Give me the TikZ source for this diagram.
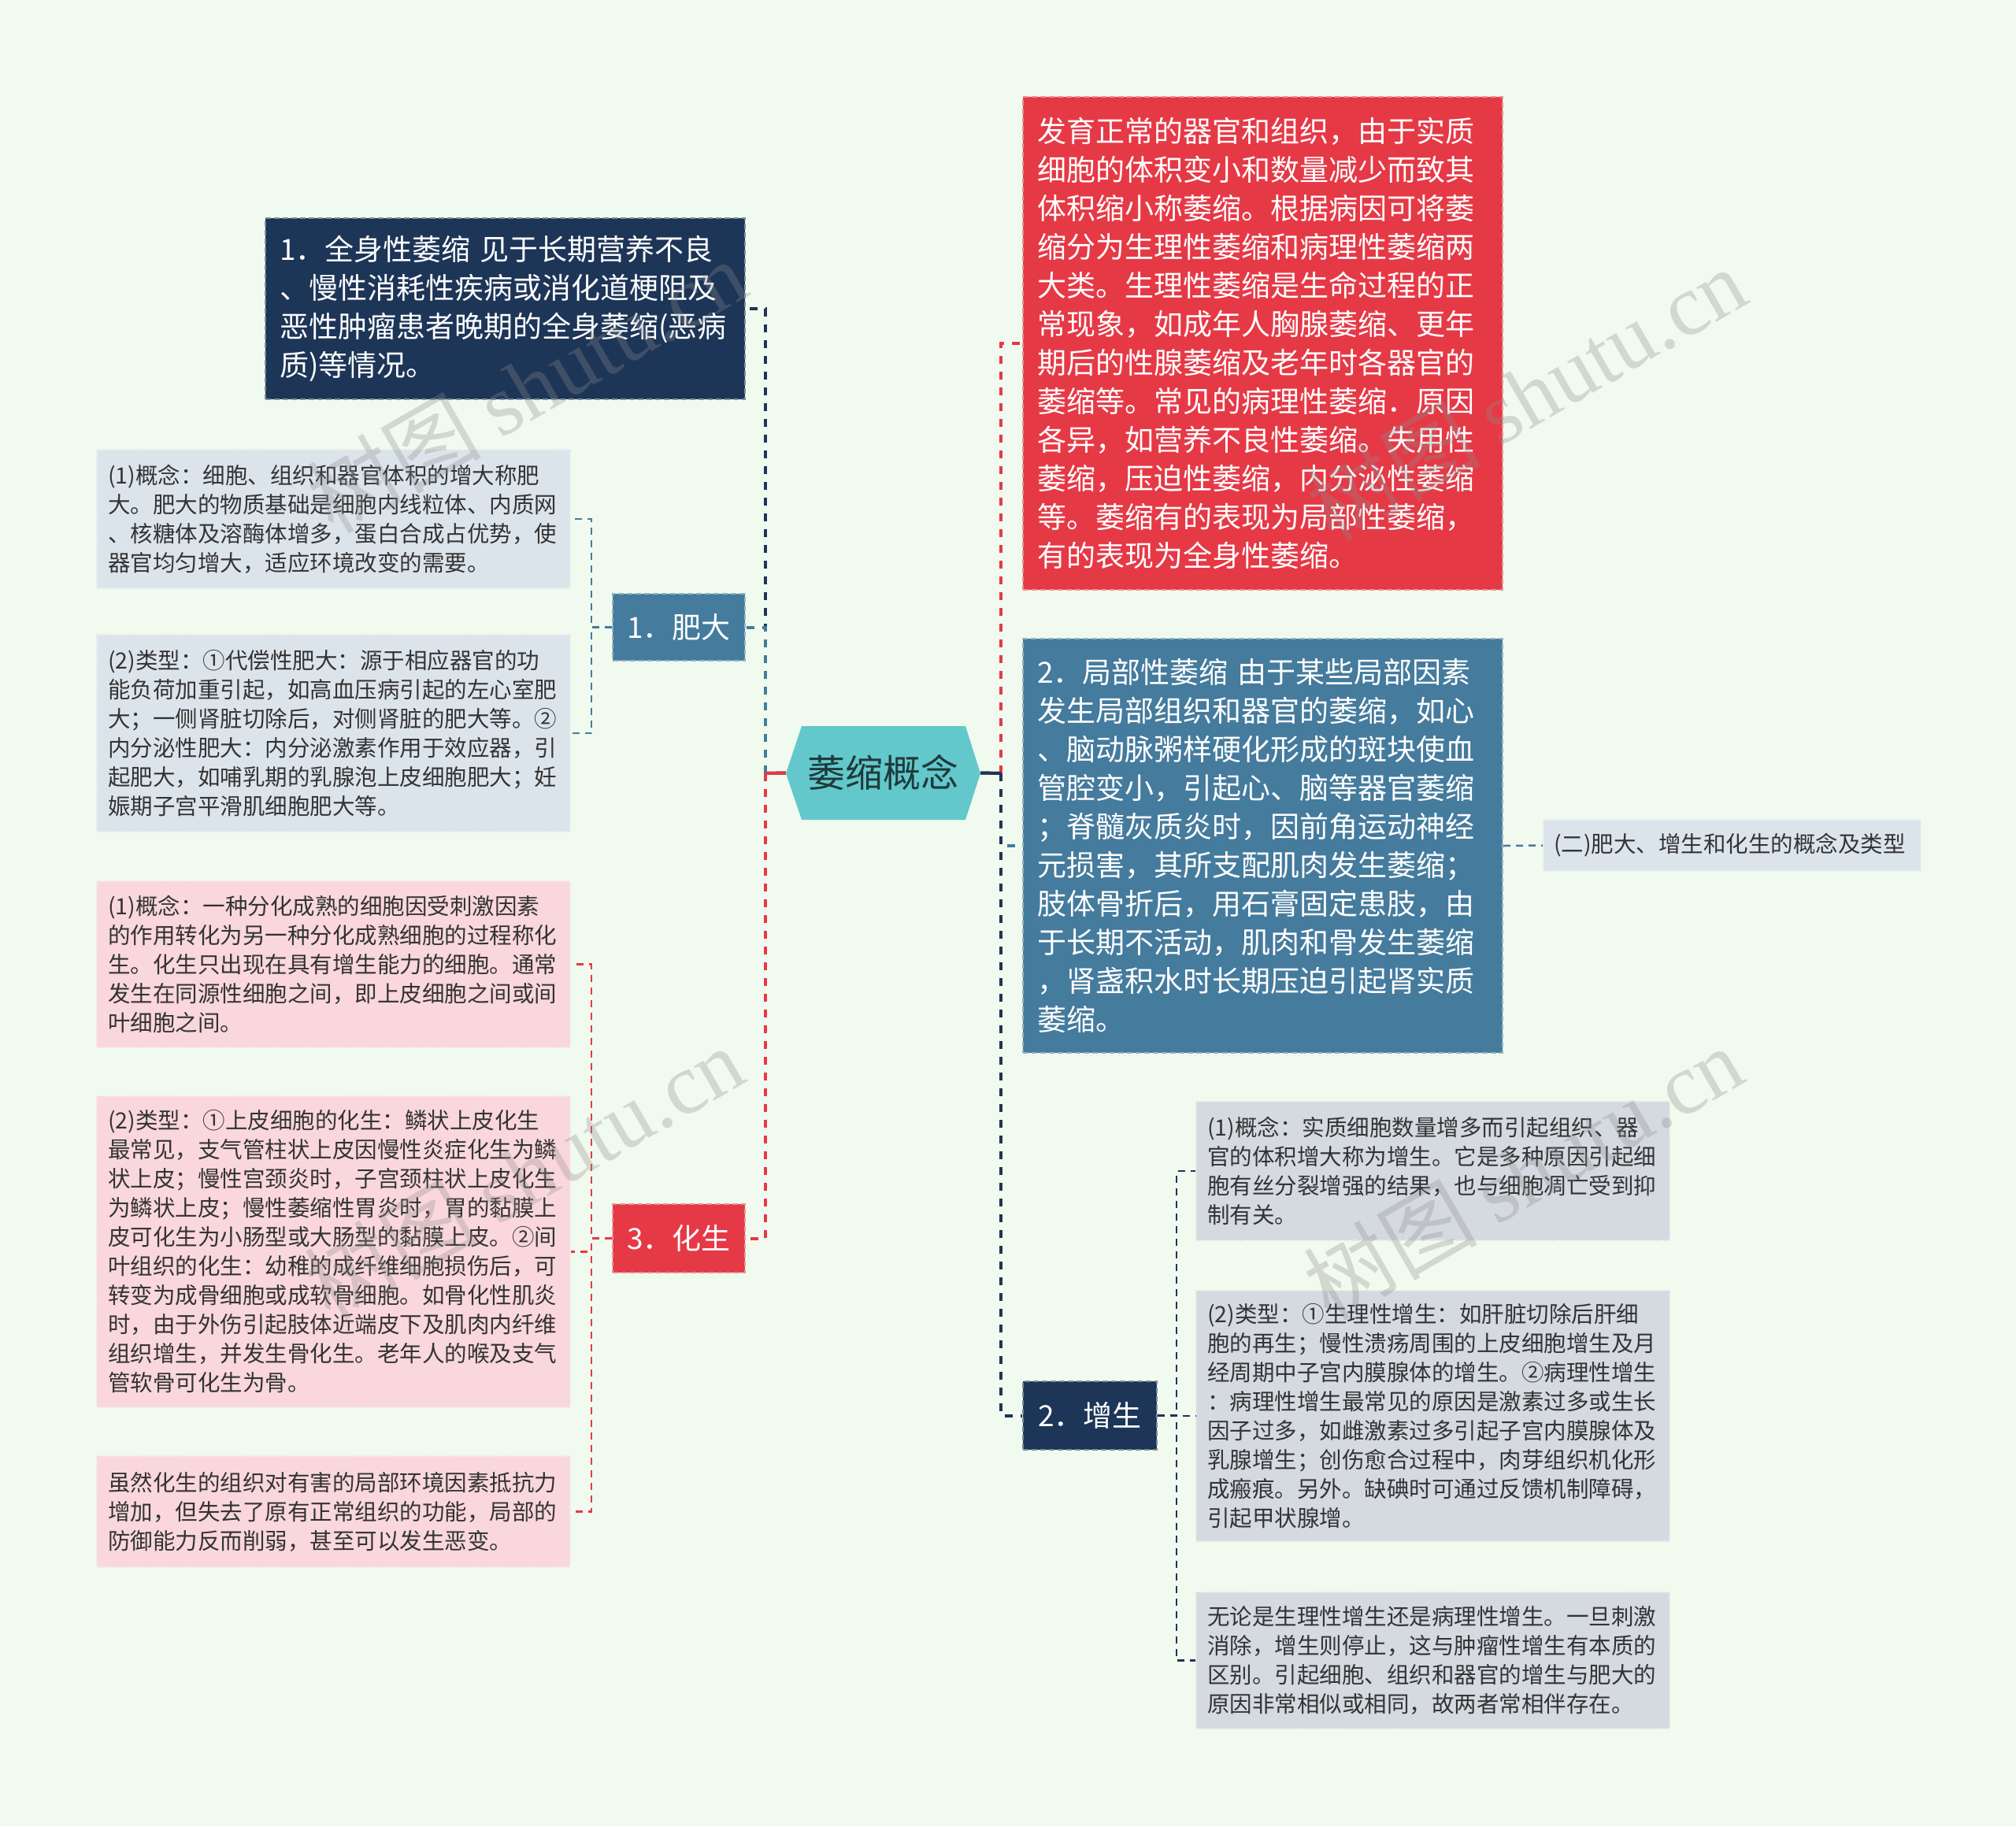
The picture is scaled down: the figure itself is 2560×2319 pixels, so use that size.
\documentclass[tikz,border=0pt]{standalone}
\usepackage{fontspec}
\setmainfont{Noto Sans CJK SC}
\newfontfamily\wmserif{Liberation Serif}
\definecolor{bgc}{HTML}{F1FAEE}
\definecolor{navy}{HTML}{1D3557}
\definecolor{steel}{HTML}{457B9D}
\definecolor{redc}{HTML}{E63946}
\definecolor{tealc}{HTML}{63C8CB}
\definecolor{lblue}{HTML}{DCE4EB}
\definecolor{lpink}{HTML}{F9D7DC}
\definecolor{lgrey}{HTML}{D5D9E0}
\definecolor{txtd}{HTML}{333333}
\definecolor{ctrtxt}{HTML}{1F3A3C}
\tikzset{
  boxbase/.style={anchor=north west, align=left, inner ysep=0pt, line width=2pt, dash pattern=on 7pt off 4pt},
  bigbox/.style={boxbase, inner xsep=18pt, text width=573pt, text=white, font=\fontsize{37}{49}\selectfont},
  smallbox/.style={boxbase, inner xsep=14pt, text width=573pt, text=txtd, font=\fontsize{28.5}{37}\selectfont},
  tagbox/.style={boxbase, align=center, inner xsep=0pt, text=white, font=\fontsize{37}{44}\selectfont},
  colbox/.style={fill=#1, draw=#1!55!bgc},
  trunk/.style={line width=4pt, dash pattern=on 10pt off 10pt},
  twig/.style={line width=2.5pt, dash pattern=on 9pt off 7pt},
  stub/.style={line width=4pt},
  wm/.style={text=black!45, opacity=0.3, rotate=30, font=\fontsize{110}{110}\selectfont},
}
\begin{document}
\begin{tikzpicture}[x=1pt,y=-1pt]
\useasboundingbox (0,0) rectangle (2560,2319);
\fill[bgc] (0,0) rectangle (2560,2319);

% centre
\fill[tealc] (998,982) -- (1018,922) -- (1226,922) -- (1245,982) -- (1226,1041) -- (1018,1041) -- cycle;
\node[font=\fontsize{48}{48}\selectfont, text=ctrtxt, minimum width=247pt, minimum height=119pt, inner sep=0pt] (c) at (1121.5,981.5) {萎缩概念};

% left side
\node[bigbox, colbox=navy, minimum height=230pt] (g1) at (336,276) {1．全身性萎缩 见于长期营养不良\\、慢性消耗性疾病或消化道梗阻及\\恶性肿瘤患者晚期的全身萎缩(恶病\\质)等情况。};

\node[tagbox, colbox=steel, minimum width=168pt, minimum height=85pt] (fd) at (777,753) {1．肥大};
\node[smallbox, colbox=lblue, minimum height=176pt] (fd1) at (122,570) {(1)概念：细胞、组织和器官体积的增大称肥\\大。肥大的物质基础是细胞内线粒体、内质网\\、核糖体及溶酶体增多，蛋白合成占优势，使\\器官均匀增大，适应环境改变的需要。};
\node[smallbox, colbox=lblue, minimum height=250pt] (fd2) at (122,805) {(2)类型：①代偿性肥大：源于相应器官的功\\能负荷加重引起，如高血压病引起的左心室肥\\大；一侧肾脏切除后，对侧肾脏的肥大等。②\\内分泌性肥大：内分泌激素作用于效应器，引\\起肥大，如哺乳期的乳腺泡上皮细胞肥大；妊\\娠期子宫平滑肌细胞肥大等。};

\node[tagbox, colbox=redc, minimum width=168pt, minimum height=87pt] (hs) at (777,1528) {3．化生};
\node[smallbox, colbox=lpink, minimum height=211pt] (hs1) at (122,1118) {(1)概念：一种分化成熟的细胞因受刺激因素\\的作用转化为另一种分化成熟细胞的过程称化\\生。化生只出现在具有增生能力的细胞。通常\\发生在同源性细胞之间，即上皮细胞之间或间\\叶细胞之间。};
\node[smallbox, colbox=lpink, minimum height=395pt] (hs2) at (122,1391) {(2)类型：①上皮细胞的化生：鳞状上皮化生\\最常见，支气管柱状上皮因慢性炎症化生为鳞\\状上皮；慢性宫颈炎时，子宫颈柱状上皮化生\\为鳞状上皮；慢性萎缩性胃炎时，胃的黏膜上\\皮可化生为小肠型或大肠型的黏膜上皮。②间\\叶组织的化生：幼稚的成纤维细胞损伤后，可\\转变为成骨细胞或成软骨细胞。如骨化性肌炎\\时，由于外伤引起肢体近端皮下及肌肉内纤维\\组织增生，并发生骨化生。老年人的喉及支气\\管软骨可化生为骨。};
\node[smallbox, colbox=lpink, minimum height=141pt] (hs3) at (122,1848) {虽然化生的组织对有害的局部环境因素抵抗力\\增加，但失去了原有正常组织的功能，局部的\\防御能力反而削弱，甚至可以发生恶变。};

% right side
\node[bigbox, colbox=redc, minimum height=626pt] (rd) at (1298,122) {发育正常的器官和组织，由于实质\\细胞的体积变小和数量减少而致其\\体积缩小称萎缩。根据病因可将萎\\缩分为生理性萎缩和病理性萎缩两\\大类。生理性萎缩是生命过程的正\\常现象，如成年人胸腺萎缩、更年\\期后的性腺萎缩及老年时各器官的\\萎缩等。常见的病理性萎缩．原因\\各异，如营养不良性萎缩。失用性\\萎缩，压迫性萎缩，内分泌性萎缩\\等。萎缩有的表现为局部性萎缩，\\有的表现为全身性萎缩。};
\node[bigbox, colbox=steel, minimum height=526pt] (jb) at (1298,810) {2．局部性萎缩 由于某些局部因素\\发生局部组织和器官的萎缩，如心\\、脑动脉粥样硬化形成的斑块使血\\管腔变小，引起心、脑等器官萎缩\\；脊髓灰质炎时，因前角运动神经\\元损害，其所支配肌肉发生萎缩；\\肢体骨折后，用石膏固定患肢，由\\于长期不活动，肌肉和骨发生萎缩\\，肾盏积水时长期压迫引起肾实质\\萎缩。};
\node[smallbox, colbox=lblue, text width=453pt, inner xsep=13pt, minimum height=65pt] (er) at (1959,1040) {(二)肥大、增生和化生的概念及类型};

\node[tagbox, colbox=navy, minimum width=170pt, minimum height=87pt] (zs) at (1298,1753) {2．增生};
\node[smallbox, colbox=lgrey, minimum height=176pt] (zs1) at (1518,1398) {(1)概念：实质细胞数量增多而引起组织、器\\官的体积增大称为增生。它是多种原因引起细\\胞有丝分裂增强的结果，也与细胞凋亡受到抑\\制有关。};
\node[smallbox, colbox=lgrey, minimum height=318pt] (zs2) at (1518,1638) {(2)类型：①生理性增生：如肝脏切除后肝细\\胞的再生；慢性溃疡周围的上皮细胞增生及月\\经周期中子宫内膜腺体的增生。②病理性增生\\：病理性增生最常见的原因是激素过多或生长\\因子过多，如雌激素过多引起子宫内膜腺体及\\乳腺增生；创伤愈合过程中，肉芽组织机化形\\成瘢痕。另外。缺碘时可通过反馈机制障碍，\\引起甲状腺增。};
\node[smallbox, colbox=lgrey, minimum height=173pt] (zs3) at (1518,2021) {无论是生理性增生还是病理性增生。一旦刺激\\消除，增生则停止，这与肿瘤性增生有本质的\\区别。引起细胞、组织和器官的增生与肥大的\\原因非常相似或相同，故两者常相伴存在。};

% connectors, left
\coordinate (lt) at (972,982);
\draw[navy, stub] (c.west) -- (lt);
\draw[navy, trunk] (lt) |- (g1.east);
\draw[steel, stub] (c.west) -- (lt);
\draw[steel, trunk] (lt) |- (fd.east);
\draw[redc, stub] (c.west) -- (lt);
\draw[redc, trunk] (lt) |- (hs.east);
\draw[steel, twig] (fd.west) -- ++(-26,0) |- (fd1.east);
\draw[steel, twig] (fd.west) -- ++(-26,0) |- (fd2.east);
\draw[redc, twig] (hs.west) -- ++(-26,0) |- (hs1.east);
\draw[redc, twig] (hs.west) -- ++(-26,0) |- (hs2.east);
\draw[redc, twig] (hs.west) -- ++(-26,0) |- (hs3.east);

% connectors, right
\coordinate (rt) at (1271,982);
\draw[redc, stub] (c.east) -- (rt);
\draw[redc, trunk] (rt) |- (rd.west);
\draw[steel, stub] (c.east) -- (rt);
\draw[steel, trunk] (rt) |- (jb.west);
\draw[navy, stub] (c.east) -- (rt);
\draw[navy, trunk] (rt) |- (zs.west);
\draw[steel, twig] (jb.east) -- (er.west);
\draw[navy, twig] (zs.east) -- ++(24,0) |- (zs1.west);
\draw[navy, twig] (zs.east) -- ++(24,0) |- (zs2.west);
\draw[navy, twig] (zs.east) -- ++(24,0) |- (zs3.west);

% watermarks
\node[wm] (w1) at (669,490) {树图 {\wmserif shutu.cn}};
\node[wm] (w2) at (1938,500) {树图 {\wmserif shutu.cn}};
\node[wm] (w3) at (665,1489) {树图 {\wmserif shutu.cn}};
\node[wm] (w4) at (1934,1489) {树图 {\wmserif shutu.cn}};
\end{tikzpicture}
\end{document}
